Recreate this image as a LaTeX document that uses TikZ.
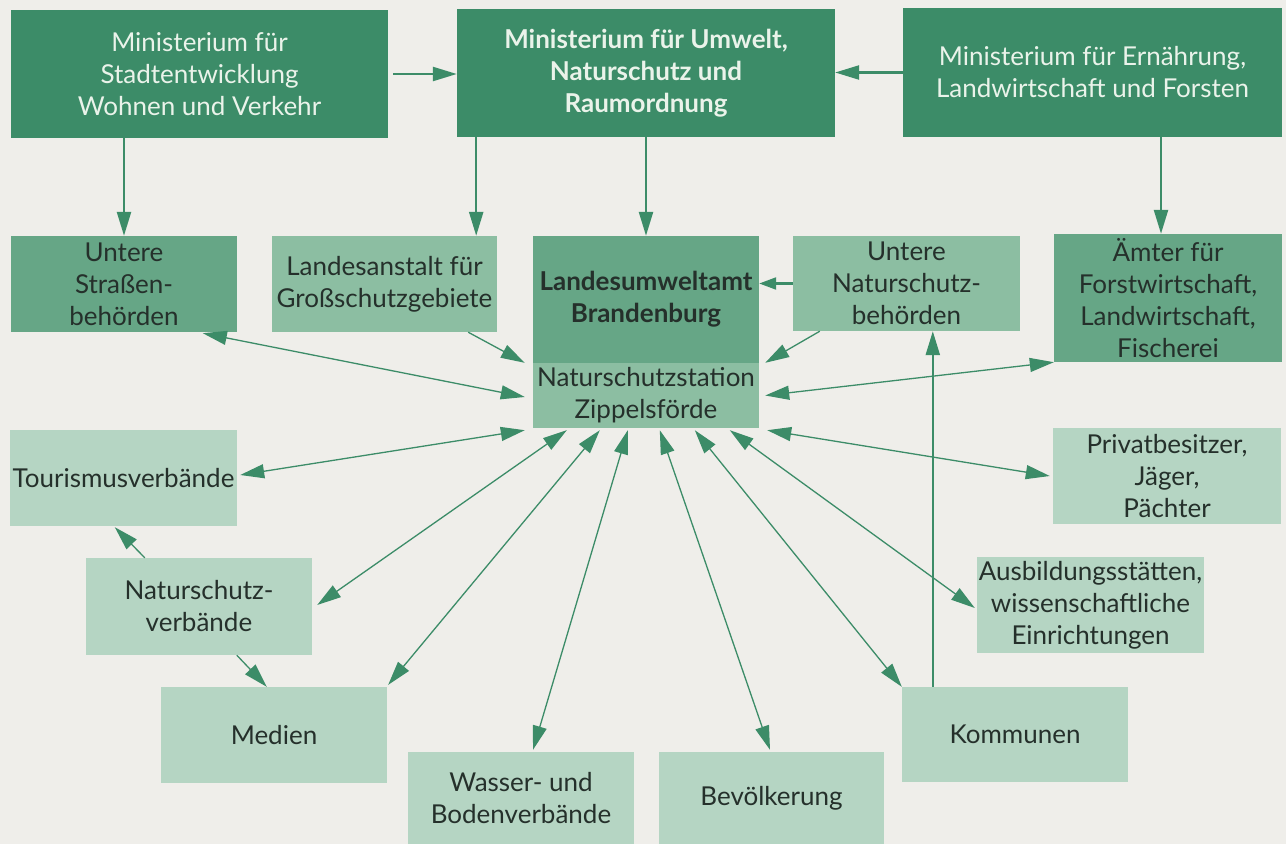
\documentclass[tikz,border=0pt]{standalone}
\usepackage{fontspec}
\setmainfont{Lato}
\usetikzlibrary{arrows.meta,calc}
\definecolor{bgc}{HTML}{EFEEEA}
\definecolor{dk}{HTML}{3C8C68}
\definecolor{md}{HTML}{66A686}
\definecolor{lt}{HTML}{8CBEA2}
\definecolor{pl}{HTML}{B5D5C3}
\definecolor{ac}{HTML}{3C8C68}
\definecolor{tdk}{HTML}{25302B}
\definecolor{tlt}{HTML}{EAF3EA}
\newcommand\boxfont{\fontsize{26}{32}\selectfont}
\tikzset{
  box/.style={inner sep=0pt, align=center, font=\boxfont, text=tdk},
  topbox/.style={box, fill=dk, text=tlt},
  midbox/.style={box, fill=md},
  ltbox/.style={box, fill=lt},
  plbox/.style={box, fill=pl},
  tip/.tip={Triangle[length=24pt,width=14pt]},
  stip/.tip={Triangle[length=17pt,width=12pt]},
  varr/.style={draw=ac, line width=2.4pt, -tip},
  sarr/.style={draw=ac, line width=2.2pt, -stip},
  arr/.style={draw=ac, line width=1.3pt, -tip},
  darr/.style={draw=ac, line width=1.3pt, tip-tip},
}
\begin{document}
\begin{tikzpicture}[x=1pt,y=-1pt]
\fill[bgc] (0,0) rectangle (1286,844);
\useasboundingbox (0,0) rectangle (1286,844);
% top row
\node[topbox, minimum width=377pt, minimum height=128pt] (m1) at (199.5,74) {Ministerium für\\Stadtentwicklung\\Wohnen und Verkehr};
\node[topbox, minimum width=378pt, minimum height=128pt, font=\boxfont\bfseries] (m2) at (646,73) {Ministerium für Umwelt,\\Naturschutz und\\Raumordnung};
\node[topbox, minimum width=379pt, minimum height=129pt] (m3) at (1092.5,72.5) {Ministerium für Ernährung,\\Landwirtschaft und Forsten};
% second row
\node[midbox, minimum width=226pt, minimum height=96pt] (sb) at (124,284) {Untere\\Straßen-\\behörden};
\node[ltbox, minimum width=225pt, minimum height=96pt] (la) at (384.5,284) {Landesanstalt für\\Großschutzgebiete};
\node[midbox, minimum width=226pt, minimum height=127pt, font=\boxfont\bfseries] (lua) at (646,299.5) {Landesumweltamt\\Brandenburg};
\node[ltbox, minimum width=226pt, minimum height=65pt] (st) at (646,395.5) {Naturschutzstation\\Zippelsförde};
\node[ltbox, minimum width=227pt, minimum height=95pt] (un) at (906.5,283.5) {Untere\\Naturschutz-\\behörden};
\node[midbox, minimum width=228pt, minimum height=128pt] (ae) at (1168,298) {Ämter für\\Forstwirtschaft,\\Landwirtschaft,\\Fischerei};
% lower boxes
\node[plbox, minimum width=227pt, minimum height=96pt] (to) at (123.5,478) {Tourismusverbände};
\node[plbox, minimum width=226pt, minimum height=97pt] (nv) at (199,606.5) {Naturschutz-\\verbände};
\node[plbox, minimum width=226pt, minimum height=96pt] (me) at (274,735) {Medien};
\node[plbox, minimum width=226pt, minimum height=92pt] (wa) at (521,798) {Wasser- und\\Bodenverbände};
\node[plbox, minimum width=225pt, minimum height=92pt] (be) at (771.5,798) {Bevölkerung};
\node[plbox, minimum width=226pt, minimum height=95pt] (ko) at (1015,734.5) {Kommunen};
\node[plbox, minimum width=228pt, minimum height=96pt] (pr) at (1167,476) {Privatbesitzer,\\Jäger,\\Pächter};
\node[plbox, minimum width=227pt, minimum height=96pt] (au) at (1090.5,605) {Ausbildungsstätten,\\wissenschaftliche\\Einrichtungen};
% helper coordinates
\coordinate (laTop) at ($(la.north east)+(-21,0)$);
\coordinate (aeTop) at ($(ae.north)+(-7,0)$);
\coordinate (koTop) at ($(ko.north west)+(31,0)$);
% top arrows
\draw[varr] ($(m1.east)+(5,0)$) -- (m1.east -| m2.west);
\draw[varr] (m3.west) -- (m3.west -| m2.east);
\draw[varr] (sb.north |- m1.south) -- (sb.north);
\draw[varr] (laTop |- m2.south) -- (laTop);
\draw[varr] (lua.north |- m2.south) -- (lua.north);
\draw[varr] (aeTop |- m3.south) -- (aeTop);
\draw[sarr] (un.west) -- (un.west -| lua.east);
\draw[varr] (koTop) -- (koTop |- un.south);
% arrows into station
\draw[arr] ($(la.south east)+(-29,0)$) -- ($(st.north west)+(-8,0)$);
\draw[arr] ($(un.south west)+(27,0)$) -- ($(st.north east)+(6,0)$);
\draw[darr] ($(sb.south west)+(192,1)$) -- ($(st.west)+(-8,1.5)$);
\draw[darr] (ae.south west) -- ($(st.east)+(6,0)$);
\draw[darr] ($(to.east)+(3,-3)$) -- ($(st.south west)+(-8,2)$);
\draw[darr] ($(nv.east)+(5,-1.5)$) -- ($(st.south west)+(34,2)$);
\draw[darr] ($(me.north east)+(1,-2)$) -- ($(st.south west)+(67,2)$);
\draw[darr] ($(wa.north)+(12,-2)$) -- ($(st.south west)+(95,2)$);
\draw[darr] ($(be.north)+(-1.5,-2)$) -- ($(st.south west)+(127,2)$);
\draw[darr] (ko.north west) -- ($(st.south west)+(162,2)$);
\draw[darr] ($(au.west)+(-2,3)$) -- ($(st.south west)+(197,2)$);
\draw[darr] ($(pr.west)+(-3,0)$) -- ($(st.south east)+(8,2)$);
% side arrows
\draw[arr] ($(nv.north west)+(59,0)$) -- ($(to.south west)+(105,1)$);
\draw[arr] ($(nv.south west)+(151,0)$) -- ($(me.north west)+(106,0)$);
\end{tikzpicture}
\end{document}
